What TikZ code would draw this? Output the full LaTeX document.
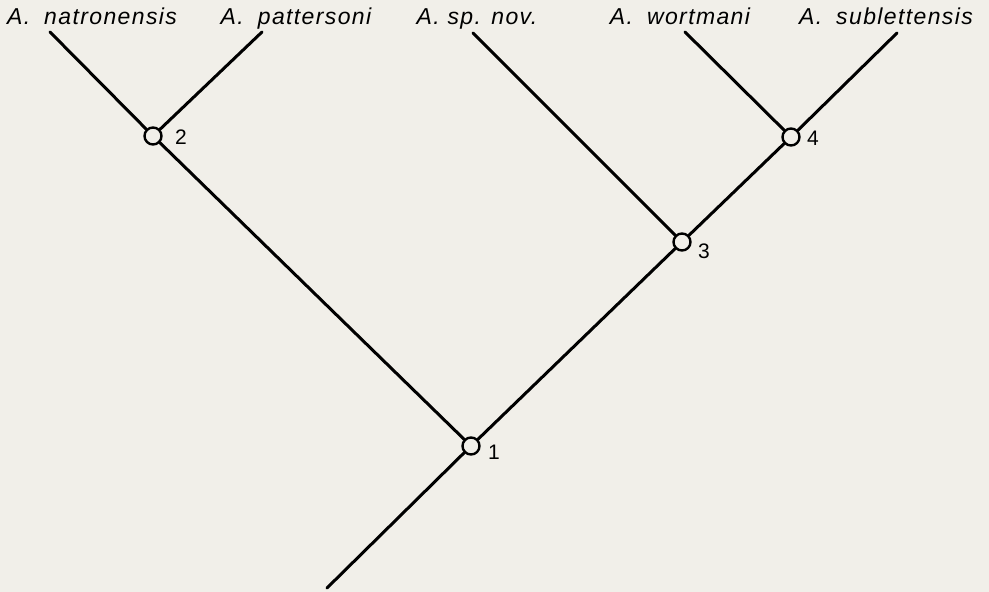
\documentclass[tikz,border=0pt]{standalone}
\usepackage{fontspec}
\setmainfont{Liberation Sans}
\newfontfamily\taxfont[LetterSpace=6]{Liberation Sans}
\definecolor{paper}{HTML}{F1EFE9}
\begin{document}
\begin{tikzpicture}[x=0.5pt,y=-0.5pt,
  branch/.style={line width=1.5pt,line cap=round},
  joint/.style={circle,draw,line width=1.2pt,fill=paper,minimum size=8.5pt,inner sep=0pt},
  taxon/.style={anchor=base,font=\taxfont\itshape\fontsize{11.5}{13}\selectfont,inner sep=0pt},
  num/.style={font=\fontsize{10.5}{12}\selectfont,inner sep=0pt}]
\fill[paper] (0,0) rectangle (989,592);
\useasboundingbox (0,0) rectangle (989,592);
% internal nodes
\node[joint] (n1) at (471,446) {};
\node[joint] (n2) at (153,136) {};
\node[joint] (n3) at (682,242) {};
\node[joint] (n4) at (791,137) {};
% numbers
\node[num] (l1) at (494,452) {1};
\node[num] (l2) at (181,137) {2};
\node[num] (l3) at (704,251) {3};
\node[num] (l4) at (813,138) {4};
% root and leaves
\coordinate (root) at (327,588);
\coordinate (t1) at (50,32);
\coordinate (t2) at (262,32);
\coordinate (t3) at (473,33);
\coordinate (t4) at (685,32);
\coordinate (t5) at (897,33);
% taxon labels
\node[taxon] (a1) at (92,25) {A.\hspace{7pt}natronensis};
\node[taxon] (a2) at (296,25) {A.\hspace{7pt}pattersoni};
\node[taxon] (a3) at (477,25) {A. sp. nov.};
\node[taxon] (a4) at (680,25) {A.\hspace{7pt}wortmani};
\node[taxon] (a5) at (886,25) {A.\hspace{7pt}sublettensis};
% branches
\draw[branch] (root) -- (n1);
\draw[branch] (n1) -- (n2);
\draw[branch] (n1) -- (n3);
\draw[branch] (n2) -- (t1);
\draw[branch] (n2) -- (t2);
\draw[branch] (n3) -- (t3);
\draw[branch] (n3) -- (n4);
\draw[branch] (n4) -- (t4);
\draw[branch] (n4) -- (t5);
\end{tikzpicture}
\end{document}
